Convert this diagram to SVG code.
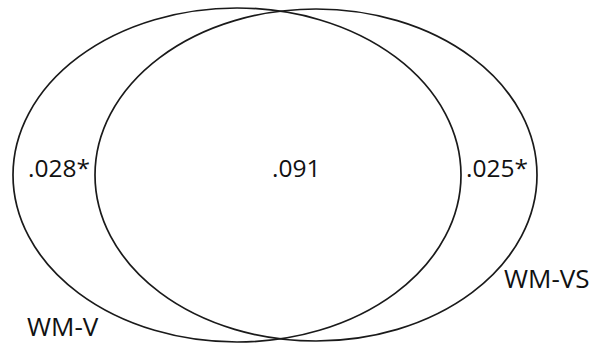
<svg xmlns="http://www.w3.org/2000/svg" width="609" height="345" viewBox="0 0 609 345">
<style>
.e{fill:none;stroke:#1a1a1a;stroke-width:1.7}
.t{font-family:"Open Sans","Liberation Sans",sans-serif;font-size:24.5px;fill:#111}
.n{font-family:"Open Sans","Liberation Sans",sans-serif;font-size:26px;fill:#111}
</style>
<rect width="609" height="345" fill="#fff"/>
<g id="wm-v">
<ellipse class="e" cx="237" cy="175" rx="224" ry="167"/>
<text class="n" x="27" y="336">WM-V</text>
</g>
<g id="wm-vs">
<ellipse class="e" cx="316" cy="175" rx="221" ry="166"/>
<text class="n" x="504" y="288">WM-VS</text>
</g>
<g id="labels">
<text class="t" x="28" y="177">.028*</text>
<text class="t" x="272" y="177">.091</text>
<text class="t" x="466" y="177">.025*</text>
</g>
<g id="connectors"/>
</svg>
